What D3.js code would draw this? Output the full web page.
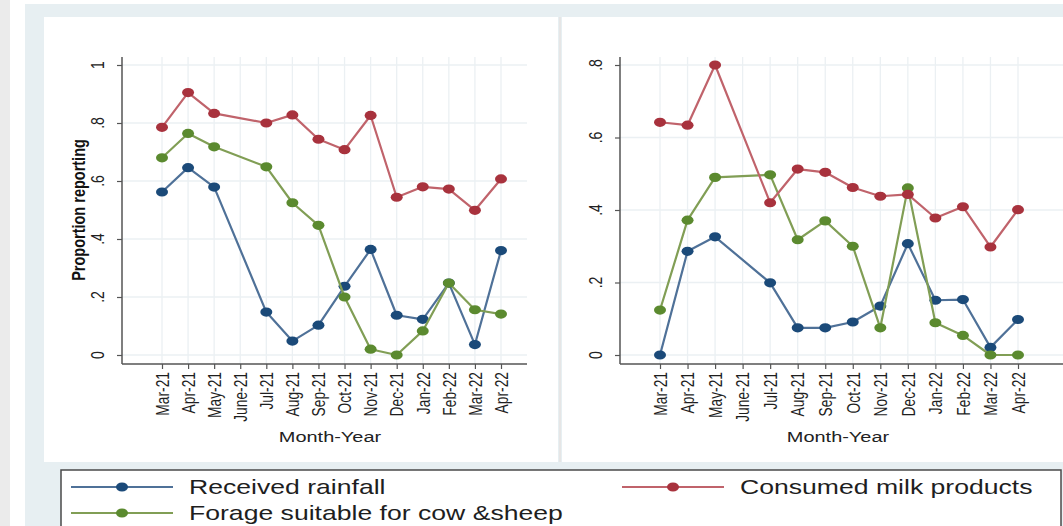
<!DOCTYPE html>
<html>
<head>
<meta charset="utf-8">
<script src="https://cdn.jsdelivr.net/npm/d3@7"></script>
<style>
  html, body { margin: 0; padding: 0; background: #ffffff; }
  svg { display: block; }
  text { font-family: "Liberation Sans", Arial, sans-serif; fill: #222; }
</style>
</head>
<body>
<svg id="chart" width="1063" height="526"></svg>
<script>
// Monthly survey rounds (June-21 had no survey round)
const months = ["Mar-21","Apr-21","May-21","June-21","Jul-21","Aug-21","Sep-21",
                "Oct-21","Nov-21","Dec-21","Jan-22","Feb-22","Mar-22","Apr-22"];

// Panel 1
const rainfallA = [0.562,0.646,0.579,null,0.148,0.048,0.103,0.237,0.364,0.137,0.123,0.248,0.036,0.360];
const forageA   = [0.680,0.764,0.718,null,0.649,0.525,0.447,0.200,0.020,0.000,0.083,0.248,0.156,0.141];
const milkA     = [0.785,0.905,0.833,null,0.800,0.828,0.744,0.708,0.826,0.544,0.580,0.572,0.499,0.607];

// Panel 2
const rainfallB = [0.000,0.286,0.326,null,0.199,0.075,0.075,0.091,0.135,0.307,0.151,0.153,0.021,0.098];
const forageB   = [0.124,0.372,0.490,null,0.497,0.318,0.370,0.300,0.075,0.461,0.089,0.054,0.000,0.000];
const milkB     = [0.642,0.634,0.800,null,0.420,0.513,0.504,0.462,0.438,0.443,0.378,0.409,0.298,0.401];

const ticksA = [0, 0.2, 0.4, 0.6, 0.8, 1];
const tickLabelsA = ["0", ".2", ".4", ".6", ".8", "1"];
const ticksB = [0, 0.2, 0.4, 0.6, 0.8];
const tickLabelsB = ["0", ".2", ".4", ".6", ".8"];

const seriesNames = ["Received rainfall", "Consumed milk products", "Forage suitable for cow &sheep"];

const colors = {
  rain:   { line: "#4f7198", mark: "#1b4a79" },
  milk:   { line: "#c0636b", mark: "#a8323d" },
  forage: { line: "#819e55", mark: "#5b8a2f" }
};

const SX = 1.33; // horizontal stretch of the graph export
const svg = d3.select("#chart");

// ---- page background and frames ----
svg.append("rect").attr("x", 0).attr("y", 0).attr("width", 1063).attr("height", 526).attr("fill", "#ffffff");
svg.append("rect").attr("x", 0).attr("y", 0).attr("width", 10).attr("height", 526).attr("fill", "#ebebeb");
svg.append("rect").attr("x", 25).attr("y", 4).attr("width", 1038).attr("height", 522).attr("fill", "#e7eff2");
svg.append("rect").attr("x", 44).attr("y", 17).attr("width", 514).attr("height", 445).attr("fill", "#ffffff");
svg.append("rect").attr("x", 562).attr("y", 17).attr("width", 501).attr("height", 445).attr("fill", "#ffffff");
svg.append("rect").attr("x", 559).attr("y", 17).attr("width", 2).attr("height", 445).attr("fill", "#e6e6e6");

function addText(g, x, y, str, opts) {
  const o = Object.assign({ size: 14, weight: "normal", anchor: "start", rotate: 0, baseline: "auto", fill: "#222" }, opts);
  return g.append("text")
    .attr("transform", `translate(${x},${y}) scale(${SX},1) rotate(${o.rotate})`)
    .attr("font-size", o.size)
    .attr("font-weight", o.weight)
    .attr("text-anchor", o.anchor)
    .attr("dominant-baseline", o.baseline)
    .style("fill", o.fill)
    .text(str);
}

function drawPanel(cfg) {
  const g = svg.append("g");
  const x = d3.scalePoint().domain(months).range([cfg.x0, cfg.x1]).padding(0);
  const y = d3.scaleLinear().domain([0, cfg.yMax]).range([355, 65]);

  // gridlines
  g.selectAll(".vg").data(months).enter().append("line")
    .attr("x1", d => x(d)).attr("x2", d => x(d))
    .attr("y1", 57).attr("y2", 364)
    .attr("stroke", "#ebf0f3").attr("stroke-width", 1.3);
  g.selectAll(".hg").data(cfg.ticks).enter().append("line")
    .attr("x1", cfg.axisX).attr("x2", cfg.gridEnd)
    .attr("y1", d => y(d)).attr("y2", d => y(d))
    .attr("stroke", "#ebf0f3").attr("stroke-width", 1.3);

  // axes
  const yAxis = d3.axisLeft(y).tickValues(cfg.ticks).tickSize(5).tickFormat("");
  const yG = g.append("g").attr("transform", `translate(${cfg.axisX},0)`).call(yAxis);
  yG.select(".domain").remove();
  yG.selectAll(".tick line").attr("stroke", "#555").attr("stroke-width", 1.2);
  g.append("line").attr("x1", cfg.axisX).attr("x2", cfg.axisX).attr("y1", 57).attr("y2", 364)
    .attr("stroke", "#555").attr("stroke-width", 1.5);

  const xAxis = d3.axisBottom(x).tickSize(5).tickFormat("");
  const xG = g.append("g").attr("transform", "translate(0,364)").call(xAxis);
  xG.select(".domain").remove();
  xG.selectAll(".tick line").attr("stroke", "#555").attr("stroke-width", 1.2);
  g.append("line").attr("x1", cfg.axisX).attr("x2", cfg.axisEnd).attr("y1", 364).attr("y2", 364)
    .attr("stroke", "#555").attr("stroke-width", 1.5);

  // tick labels
  cfg.ticks.forEach((t, i) => {
    addText(g, cfg.axisX - 18, y(t), cfg.tickLabels[i], { size: 14, anchor: "middle", rotate: -90, fill: "#222" });
  });
  months.forEach(m => {
    addText(g, x(m), 372, m, { size: 13.8, anchor: "end", rotate: -90, baseline: "central", fill: "#1e1e1e" });
  });
  addText(g, cfg.titleX, 442, "Month-Year", { size: 15, anchor: "middle", fill: "#222" });

  // series
  const series = [
    { vals: cfg.rain, c: colors.rain },
    { vals: cfg.forage, c: colors.forage },
    { vals: cfg.milk, c: colors.milk }
  ];
  const line = d3.line().x(d => x(d.m)).y(d => y(d.v));
  series.forEach(s => {
    const pts = months.map((m, i) => ({ m, v: s.vals[i] })).filter(d => d.v !== null);
    g.append("path").datum(pts).attr("d", line)
      .attr("fill", "none").attr("stroke", s.c.line).attr("stroke-width", 2.2)
      .attr("stroke-linejoin", "round");
    g.selectAll(null).data(pts).enter().append("ellipse")
      .attr("cx", d => x(d.m)).attr("cy", d => y(d.v))
      .attr("rx", 6).attr("ry", 4.6)
      .attr("fill", s.c.mark);
  });
  return g;
}

const left = drawPanel({
  x0: 162, x1: 501, axisX: 122, axisEnd: 527, gridEnd: 527, yMax: 1,
  ticks: ticksA, tickLabels: tickLabelsA, titleX: 330,
  rain: rainfallA, forage: forageA, milk: milkA
});
addText(left, 85, 210, "Proportion reporting", { size: 14.5, weight: "bold", anchor: "middle", rotate: -90, fill: "#111" });

drawPanel({
  x0: 660, x1: 1018, axisX: 620, axisEnd: 1063, gridEnd: 1063, yMax: 0.8,
  ticks: ticksB, tickLabels: tickLabelsB, titleX: 838,
  rain: rainfallB, forage: forageB, milk: milkB
});

// ---- legend ----
const lg = svg.append("g");
lg.append("rect").attr("x", 61).attr("y", 470).attr("width", 1000).attr("height", 70)
  .attr("fill", "#ffffff").attr("stroke", "#4a4a4a").attr("stroke-width", 1.5);
const legendItems = [
  { name: seriesNames[0], c: colors.rain,   lx: 71,  rx: 173, tx: 189, y: 487 },
  { name: seriesNames[1], c: colors.milk,   lx: 622, rx: 724, tx: 740, y: 487 },
  { name: seriesNames[2], c: colors.forage, lx: 71,  rx: 173, tx: 189, y: 513 }
];
legendItems.forEach(it => {
  lg.append("line").attr("x1", it.lx).attr("x2", it.rx).attr("y1", it.y).attr("y2", it.y)
    .attr("stroke", it.c.line).attr("stroke-width", 2.2);
  lg.append("ellipse").attr("cx", (it.lx + it.rx) / 2).attr("cy", it.y)
    .attr("rx", 6).attr("ry", 4.6).attr("fill", it.c.mark);
  addText(lg, it.tx, it.y + 7, it.name, { size: 20, fill: "#1e1e1e" });
});
</script>
</body>
</html>
